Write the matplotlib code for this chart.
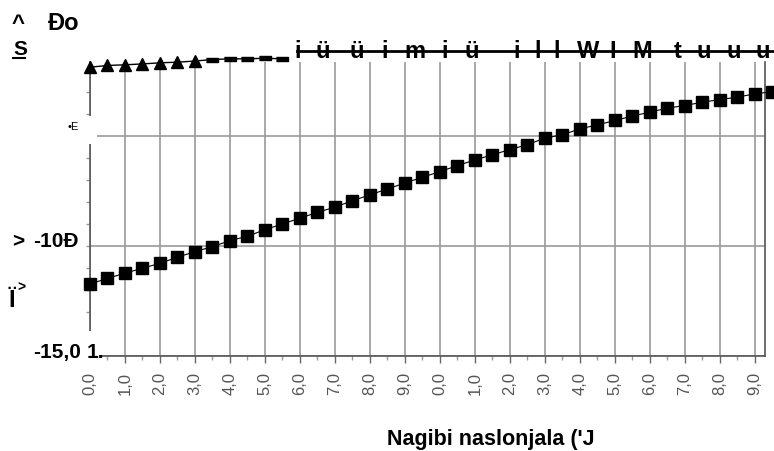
import numpy as np
import matplotlib
matplotlib.use("Agg")
import matplotlib.pyplot as plt
from matplotlib.lines import Line2D
from matplotlib.patches import Rectangle

plt.rcParams['font.family'] = ['Liberation Sans Narrow', 'Liberation Sans', 'DejaVu Sans']

# nagib naslonjala, every half degree
angles = np.arange(0, 20, 0.5)
squares = [-11.73, -11.47, -11.24, -11.01, -10.79, -10.51, -10.26, -10.03, -9.76, -9.56,
           -9.26, -9.00, -8.74, -8.47, -8.24, -7.94, -7.68, -7.41, -7.14, -6.88,
           -6.62, -6.35, -6.09, -5.86, -5.62, -5.40, -5.10, -4.95, -4.68, -4.50,
           -4.30, -4.10, -3.92, -3.74, -3.62, -3.47, -3.35, -3.24, -3.09, -2.99]
tri_angles = angles[:12]
triangles = [-1.88, -1.80, -1.77, -1.73, -1.68, -1.65, -1.60, -1.53, -1.50, -1.50, -1.47, -1.50]

tick_pos = np.arange(0, 20)
tick_labels = ["0,0", "1,0", "2,0", "3,0", "4,0", "5,0", "6,0", "7,0", "8,0", "9,0",
               "0,0", "1,0", "2,0", "3,0", "4,0", "5,0", "6,0", "7,0", "8,0", "9,0"]

W, H = 774, 452
fig = plt.figure(figsize=(W / 100, H / 100), dpi=100)

def fx(x):
    return x / W

def fy(y):
    return 1 - y / H

ax = fig.add_axes([fx(90), fy(357), fx(765) - fx(90), fy(62.5) - fy(357)])

ax.plot(angles, squares, color='black', lw=0.8, marker='s', ms=8, zorder=3, clip_on=False)

# upper series: the first points show whole, the rest only as flat stubs in the scan
stub = [(-1, -0.35), (1, -0.35), (1, 0.35), (-1, 0.35)]
ax.plot(tri_angles, triangles, color='black', lw=1.0, zorder=3, clip_on=False)
ax.plot(tri_angles[:7], triangles[:7], ls='none', color='black', marker='^', ms=9,
        zorder=4, clip_on=False)
ax.plot(tri_angles[7:], triangles[7:], ls='none', color='black', marker=stub, ms=9,
        zorder=4, clip_on=False)

ax.set_xlim(0, 19.29)
ax.set_ylim(-15, -1.62)

ax.set_xticks(tick_pos)
ax.set_xticks(np.arange(0.5, 19.5, 1), minor=True)
ax.set_xticklabels(tick_labels, rotation=90, fontsize=12, color='#555555',
                   family=['Liberation Sans', 'DejaVu Sans'])
ax.set_yticks([-15, -10, -5])
ax.set_yticks(np.arange(-14, -1, 1), minor=True)
ax.set_yticklabels([])

ax.grid(True, which='major', color='#9a9a9a', lw=1.2)
ax.tick_params(axis='x', which='major', length=5, width=1, color='#666666', pad=6)
ax.tick_params(axis='x', which='minor', length=3, width=1, color='#999999')
ax.tick_params(axis='y', which='both', length=3, width=1, color='#999999')

ax.spines['top'].set_visible(False)
for s in ['left', 'bottom', 'right']:
    ax.spines[s].set_color('#555555')
    ax.spines[s].set_linewidth(1.2)

# white patches from the scan
fig.add_artist(Rectangle((0, fy(145)), fx(97), fy(117) - fy(145), transform=fig.transFigure,
                         facecolor='white', edgecolor='none', zorder=5))
fig.add_artist(Rectangle((0, fy(366)), fx(100), fy(332) - fy(366), transform=fig.transFigure,
                         facecolor='white', edgecolor='none', zorder=5))

# garbled scanned header
fig.add_artist(Line2D([fx(297), fx(774)], [fy(52), fy(52)], transform=fig.transFigure,
                      color='black', lw=2, zorder=6))
top_chars = [("i", 298), ("ü", 323), ("ü", 357), ("i", 385), ("m", 415), ("i", 445),
             ("ü", 472), ("i", 517), ("l", 538), ("l", 557), ("W", 588), ("I", 613),
             ("M", 642), ("t", 678), ("u", 704), ("u", 734), ("u", 763)]
for ch, x in top_chars:
    fig.text(fx(x), fy(58), ch, ha='center', va='baseline', fontsize=17,
             fontweight='bold', zorder=7)

bold = dict(fontweight='bold', zorder=7)
fig.text(fx(12), fy(30), "^", fontsize=16, va='baseline', **bold)
fig.text(fx(48), fy(30), "Đo", fontsize=17, va='baseline', **bold)
fig.text(fx(13), fy(55), "S", fontsize=15, va='baseline', **bold)
fig.add_artist(Line2D([fx(13), fx(25)], [fy(59), fy(59)], transform=fig.transFigure,
                      color='black', lw=1.5, zorder=7))
fig.text(fx(67), fy(130), "•E", fontsize=8, va='baseline', zorder=7)
fig.text(fx(12), fy(247), ">", fontsize=15, va='baseline', **bold)
fig.text(fx(33), fy(247), "-10Đ", fontsize=15, va='baseline', **bold)
fig.text(fx(8), fy(307), "Ï", fontsize=17, va='baseline', **bold)
fig.text(fx(17), fy(292), ">", fontsize=10, va='baseline', **bold)
fig.text(fx(33), fy(358), "-15,0", fontsize=15, va='baseline', **bold)
fig.text(fx(87), fy(358), "1.", fontsize=15, va='baseline', **bold)

fig.text(fx(491), fy(445), "Nagibi naslonjala ('J", ha='center', va='baseline',
         fontsize=15.5, **bold)

fig.savefig("out.png", dpi=100, facecolor='white')
